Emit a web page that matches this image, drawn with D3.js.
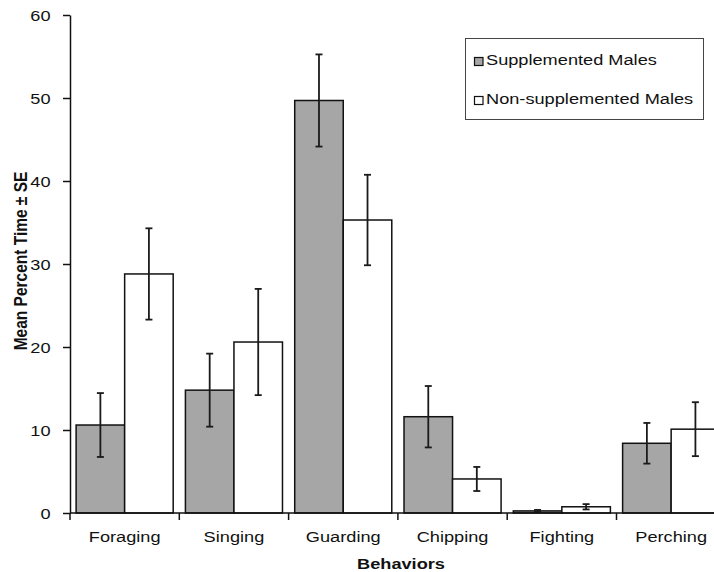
<!DOCTYPE html>
<html><head><meta charset="utf-8">
<script src="https://cdn.jsdelivr.net/npm/d3@7"></script>
<style>body{margin:0;background:#fff;} text{font-family:"Liberation Sans",Arial,sans-serif;}</style>
</head><body>
<svg id="c" width="714" height="572"></svg>
<script>
const categories = ["Foraging","Singing","Guarding","Chipping","Fighting","Perching"];
const seriesNames = ["Supplemented Males","Non-supplemented Males"];
const supplemented = [10.6, 14.8, 49.7, 11.6, 0.25, 8.4];
const supplementedSE = [3.85, 4.4, 5.55, 3.7, 0.12, 2.45];
const nonSupplemented = [28.8, 20.6, 35.3, 4.1, 0.75, 10.1];
const nonSupplementedSE = [5.5, 6.4, 5.45, 1.45, 0.32, 3.25];
const yTicks = [0,10,20,30,40,50,60];
const colors = ["#a6a6a6","#ffffff"];

const FS = 15.5, SX = 1.174;
const svg = d3.select("#c");
const mLeft = 70, mTop = 15, mBottom = 513, bandW = 109.3;
const x = d3.scaleBand().domain(categories).range([mLeft, mLeft + bandW*categories.length]).paddingInner(0).paddingOuter(0);
const xs = d3.scaleBand().domain(seriesNames).range([0, x.bandwidth()]).paddingInner(0).paddingOuter(0.126);
const y = d3.scaleLinear().domain([0,60]).range([mBottom, mTop]);

const data = categories.map((c,i)=>({c, vals:[
  {s:seriesNames[0], v:supplemented[i], se:supplementedSE[i], col:colors[0]},
  {s:seriesNames[1], v:nonSupplemented[i], se:nonSupplementedSE[i], col:colors[1]}]}));

const g = svg.selectAll("g.cat").data(data).join("g").attr("class","cat").attr("transform", d=>`translate(${x(d.c)},0)`);
g.selectAll("rect").data(d=>d.vals).join("rect")
  .attr("x", d=>xs(d.s)).attr("width", xs.bandwidth())
  .attr("y", d=>y(d.v)).attr("height", d=>y(0)-y(d.v))
  .attr("fill", d=>d.col).attr("stroke","#111").attr("stroke-width",1.5);
const eb = g.selectAll("g.eb").data(d=>d.vals).join("g").attr("class","eb").attr("stroke","#1a1a1a").attr("stroke-width",1.8);
const cx = d=>xs(d.s)+xs.bandwidth()/2;
eb.append("line").attr("x1",cx).attr("x2",cx)
  .attr("y1",d=>y(d.v+d.se)).attr("y2",d=>y(Math.max(0,d.v-d.se)));
eb.append("line").attr("x1",d=>cx(d)-3.5).attr("x2",d=>cx(d)+3.5)
  .attr("y1",d=>y(d.v+d.se)).attr("y2",d=>y(d.v+d.se));
eb.append("line").attr("x1",d=>cx(d)-3.5).attr("x2",d=>cx(d)+3.5)
  .attr("y1",d=>y(Math.max(0,d.v-d.se))).attr("y2",d=>y(Math.max(0,d.v-d.se)));

// y axis
const ya = svg.append("g").attr("transform",`translate(${mLeft},0)`)
  .call(d3.axisLeft(y).tickValues(yTicks).tickSize(7).tickSizeOuter(0));
ya.select(".domain").attr("stroke","#111").attr("stroke-width",1.5);
ya.selectAll(".tick line").attr("stroke","#111").attr("stroke-width",1.5);
ya.selectAll(".tick text").attr("font-size",FS).attr("fill","#111")
  .attr("font-family","Liberation Sans, Arial, sans-serif")
  .attr("x",-19.5/SX).attr("dy","0.36em").attr("transform",`scale(${SX},1)`);

// x axis
svg.append("line").attr("x1",mLeft).attr("x2",714).attr("y1",mBottom).attr("y2",mBottom).attr("stroke","#111").attr("stroke-width",1.5);
const bounds = categories.map(c=>x(c)).concat([x.range()[1]]);
svg.selectAll("line.xt").data(bounds).join("line").attr("class","xt")
  .attr("x1",d=>d).attr("x2",d=>d).attr("y1",mBottom).attr("y2",mBottom+7).attr("stroke","#111").attr("stroke-width",1.5);
svg.selectAll("g.xl").data(categories).join("g").attr("class","xl")
  .attr("transform",d=>`translate(${x(d)+x.bandwidth()/2},542) scale(${SX},1)`)
  .append("text").attr("text-anchor","middle").attr("font-size",FS).attr("fill","#111").text(d=>d);

// titles
svg.append("text").attr("transform",`translate(401,569) scale(${SX},1)`).attr("text-anchor","middle").attr("font-size",FS).attr("font-weight","bold").attr("fill","#111").text("Behaviors");
svg.append("text").attr("transform",`translate(27,261) scale(${SX},1) rotate(-90)`).attr("text-anchor","middle").attr("font-size",FS).attr("font-weight","bold").attr("fill","#111").text("Mean Percent Time ± SE");

// legend
const lg = svg.append("g");
lg.append("rect").attr("x",465.5).attr("y",38.5).attr("width",238).attr("height",81).attr("fill","#fff").attr("stroke","#444").attr("stroke-width",1);
seriesNames.forEach((s,i)=>{
  const base = 65 + i*39;
  lg.append("rect").attr("x",474.5).attr("y",base-7.5).attr("width",8.5).attr("height",8).attr("fill",colors[i]).attr("stroke","#111").attr("stroke-width",1.2);
  lg.append("text").attr("transform",`translate(486,${base}) scale(${SX},1)`).attr("font-size",FS).attr("fill","#111").text(s);
});
</script>
</body></html>
